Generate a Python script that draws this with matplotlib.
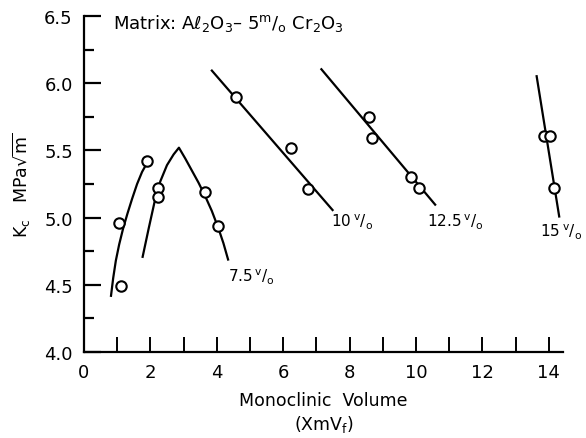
import matplotlib
matplotlib.use("Agg")
import matplotlib.pyplot as plt
from matplotlib.ticker import MultipleLocator, FuncFormatter

# Measured points: monoclinic volume (XmVf) vs fracture toughness Kc (MPa*sqrt(m))
x_5 = [1.05, 1.13, 1.91]
k_5 = [4.96, 4.49, 5.42]
x_75 = [2.22, 2.23, 3.66, 4.05]
k_75 = [5.22, 5.15, 5.19, 4.94]
x_10 = [4.57, 6.25, 6.76]
k_10 = [5.90, 5.52, 5.21]
x_125 = [8.59, 8.68, 9.85, 10.08]
k_125 = [5.75, 5.59, 5.30, 5.22]
x_15 = [13.87, 14.05, 14.17]
k_15 = [5.61, 5.61, 5.22]

# Hand-drawn trend curves (vertices)
cx_5 = [0.81, 0.88, 0.96, 1.06, 1.18, 1.31, 1.45, 1.60, 1.75, 1.93]
ck_5 = [4.41, 4.55, 4.68, 4.80, 4.92, 5.03, 5.14, 5.25, 5.34, 5.42]
cx_75 = [1.76, 1.95, 2.12, 2.30, 2.50, 2.70, 2.86,
         3.05, 3.25, 3.45, 3.65, 3.85, 4.05, 4.20, 4.35]
ck_75 = [4.70, 4.92, 5.11, 5.27, 5.39, 5.47, 5.52,
         5.44, 5.35, 5.26, 5.16, 5.05, 4.92, 4.81, 4.68]
cx_10 = [3.83, 7.51]
ck_10 = [6.10, 5.05]
cx_125 = [7.13, 10.60]
ck_125 = [6.11, 5.09]
cx_15 = [13.63, 14.32]
ck_15 = [6.06, 5.00]

curve_labels = ["7.5", "10", "12.5", "15"]

plt.rcParams["font.family"] = ["DejaVu Sans"]
fig = plt.figure(figsize=(5.86, 4.39), dpi=100)
ax = fig.add_axes([0.1433, 0.1959, 0.8175, 0.7654])

lw = 1.6
for cx, ck in [(cx_5, ck_5), (cx_75, ck_75), (cx_10, ck_10),
               (cx_125, ck_125), (cx_15, ck_15)]:
    ax.plot(cx, ck, color="black", lw=lw, solid_capstyle="butt",
            solid_joinstyle="round", zorder=2)

for xs, ks in [(x_5, k_5), (x_75, k_75), (x_10, k_10),
               (x_125, k_125), (x_15, k_15)]:
    ax.plot(xs, ks, linestyle="none", marker="o", markersize=7.5,
            markerfacecolor="white", markeredgecolor="black",
            markeredgewidth=1.5, zorder=3)

vo = r"$\,^{\rm v}/_{\rm o}$"
label_pos = [(4.35, 4.56), (7.45, 4.97), (10.33, 4.97), (13.74, 4.90)]
for lab, (lx, ly) in zip(curve_labels, label_pos):
    ax.text(lx, ly, lab + vo, fontsize=11, ha="left", va="center",
            clip_on=False)

ax.text(0.87, 6.45,
        r"Matrix: A$\ell_2$O$_3$– 5$^{\rm m}/_{\rm o}$ Cr$_2$O$_3$",
        fontsize=13, ha="left", va="center")

ax.set_xlim(0, 14.43)
ax.set_ylim(4.0, 6.5)
ax.xaxis.set_major_locator(MultipleLocator(2))
ax.xaxis.set_minor_locator(MultipleLocator(1))
ax.yaxis.set_major_locator(MultipleLocator(0.5))
ax.yaxis.set_minor_locator(MultipleLocator(0.25))
ax.xaxis.set_major_formatter(FuncFormatter(lambda v, p: f"{v:.0f}"))
ax.yaxis.set_major_formatter(FuncFormatter(lambda v, p: f"{v:.1f}"))

for s in ["top", "right"]:
    ax.spines[s].set_visible(False)
for s in ["left", "bottom"]:
    ax.spines[s].set_linewidth(1.6)

ax.tick_params(axis="x", which="both", direction="in", length=10.5,
               width=1.4, labelsize=13, pad=8)
ax.tick_params(axis="y", which="major", direction="in", length=12,
               width=1.6, labelsize=13, pad=8)
ax.tick_params(axis="y", which="minor", direction="in", length=7.5,
               width=1.6)

ax.set_xlabel("Monoclinic  Volume\n" + r"(XmV$_{\rm f}$)", fontsize=12.5,
              linespacing=1.25, labelpad=7)
ax.set_ylabel(r"K$_{\rm c}$   MPa$\sqrt{\rm m}$", fontsize=12.5, labelpad=8)

fig.savefig("out.png", dpi=100)
